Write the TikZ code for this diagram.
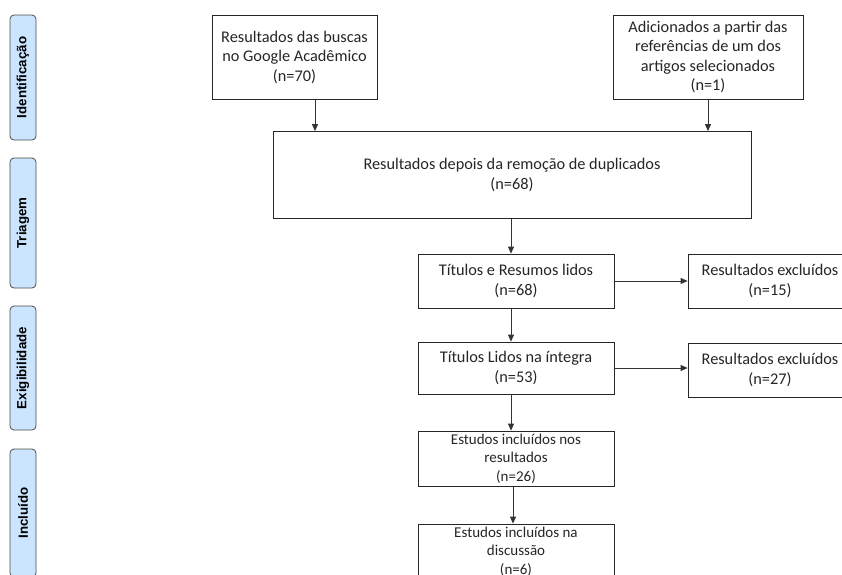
\documentclass[tikz,border=0pt]{standalone}
\usepackage{fontspec}
\setmainfont{Carlito}
\newfontfamily\labfont{Liberation Sans}
\usetikzlibrary{arrows.meta}
\definecolor{sideblue}{RGB}{204,229,255}
\begin{document}
\begin{tikzpicture}[x=1pt,y=-1pt,
  box/.style={draw=black!85, line width=0.8pt, align=center, inner sep=0pt,
    font=\fontsize{16.3}{19.5}\selectfont, text=black!85},
  sbox/.style={box, font=\fontsize{15}{18.4}\selectfont},
  side/.style={draw=black!70, line width=0.8pt, fill=sideblue, rounded corners=4pt,
    rotate=90, minimum height=26pt, inner sep=0pt,
    font=\labfont\bfseries\fontsize{13.3}{15}\selectfont},
  arr/.style={-{Triangle[length=7pt,width=6pt]}, line width=0.8pt, draw=black!80}]
\useasboundingbox (0,0) rectangle (842,574);
\clip (0,0) rectangle (842,574);
\fill[white] (0,0) rectangle (842,574);

% side labels
\node[side, minimum width=125pt] (s1) at (23,77.5) {Identificação};
\node[side, minimum width=130pt] (s2) at (23,223) {Triagem};
\node[side, minimum width=124pt] (s3) at (23,368) {Exigibilidade};
\node[side, minimum width=128pt] (s4) at (23,513) {Incluído};

% boxes
\node[box, minimum width=165pt, minimum height=84pt] (A) at (294.5,57) {Resultados das buscas\\no Google Acadêmico\\(n=70)};
\node[box, minimum width=190pt, minimum height=84pt] (B) at (708,57) {Adicionados a partir das\\referências de um dos\\artigos selecionados\\(n=1)};
\node[box, minimum width=478pt, minimum height=87pt] (C) at (512,175) {Resultados depois da remoção de duplicados\\(n=68)};
\node[box, minimum width=196pt, minimum height=54pt] (D) at (516,281) {Títulos e Resumos lidos\\(n=68)};
\node[box, minimum width=164pt, minimum height=54pt] (E) at (770,281) {Resultados excluídos\\(n=15)};
\node[box, minimum width=196pt, minimum height=52pt] (F) at (516,368) {Títulos Lidos na íntegra\\(n=53)};
\node[box, minimum width=164pt, minimum height=54pt] (G) at (770,370) {Resultados excluídos\\(n=27)};
\node[sbox, minimum width=196pt, minimum height=55pt] (H) at (516,458.5) {Estudos incluídos nos\\resultados\\(n=26)};
\node[sbox, minimum width=196pt, minimum height=55pt] (I) at (516,551.5) {Estudos incluídos na\\discussão\\(n=6)};

% connectors
\coordinate (xa) at (315,0);
\coordinate (xm) at (511,0);
\coordinate (xi) at (513,0);
\draw[arr] (xa |- A.south) -- (xa |- C.north);
\draw[arr] (B.south) -- (B.south |- C.north);
\draw[arr] (xm |- C.south) -- (xm |- D.north);
\draw[arr] (D.east) -- (E.west);
\draw[arr] (xm |- D.south) -- (xm |- F.north);
\draw[arr] (F.east) -- (F.east -| G.west);
\draw[arr] (xm |- F.south) -- (xm |- H.north);
\draw[arr] (xi |- H.south) -- (xi |- I.north);
\end{tikzpicture}
\end{document}
